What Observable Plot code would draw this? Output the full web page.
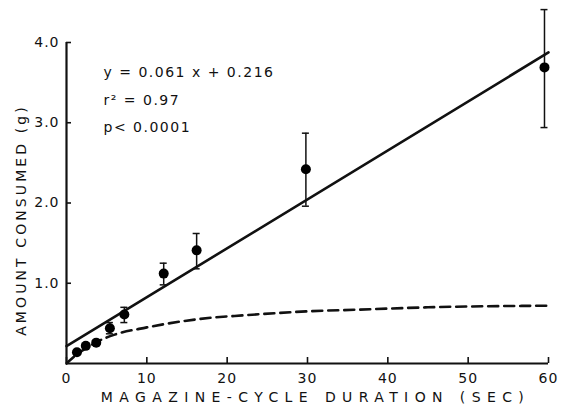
<!DOCTYPE html>
<html>
<head>
<meta charset="utf-8">
<script src="https://cdn.jsdelivr.net/npm/d3@7"></script>
<script src="https://cdn.jsdelivr.net/npm/@observablehq/plot@0.6"></script>
<style>
  html, body { margin: 0; padding: 0; background: #fff; }
  #chart svg { display: block; }
</style>
</head>
<body>
<div id="chart"></div>
<script>
// Observed means (magazine-cycle duration in s, amount consumed in g)
const durations = [1.3, 2.4, 3.7, 5.4, 7.2, 12.1, 16.2, 29.8, 59.5];
const amounts   = [0.14, 0.22, 0.26, 0.44, 0.61, 1.12, 1.41, 2.42, 3.69];
// Error bar limits (null = no visible bar)
const errLow    = [null, null, null, 0.37, 0.51, 0.98, 1.18, 1.96, 2.94];
const errHigh   = [null, null, null, 0.51, 0.70, 1.25, 1.62, 2.87, 4.41];

// Dashed curve
const curveX = [0, 1, 2.6, 4, 6, 10, 14, 18, 22, 30, 36, 45, 60];
const curveY = [0, 0.09, 0.20, 0.28, 0.36, 0.45, 0.52, 0.57, 0.60, 0.65, 0.67, 0.70, 0.72];

// Regression: y = 0.061 x + 0.216 over the x range
const slope = 0.061, intercept = 0.216;
const fitRange = [0, 60];

const xTicks = [0, 10, 20, 30, 40, 50, 60];
const yTicks = [1, 2, 3, 4];
const yTickLabels = ["1.0", "2.0", "3.0", "4.0"];

const statsLines = ["y = 0.061 x + 0.216", "r² = 0.97", "p< 0.0001"];
const statsY = [3.62, 3.28, 2.94];

const xLabel = "MAGAZINE-CYCLE DURATION (SEC)";
const yLabel = "AMOUNT CONSUMED (g)";

const points = durations.map((x, i) => ({x, y: amounts[i], lo: errLow[i], hi: errHigh[i]}));
const bars = points.filter(d => d.lo != null);
const curve = curveX.map((x, i) => ({x, y: curveY[i]}));
const fit = fitRange.map(x => ({x, y: slope * x + intercept}));
const stats = statsLines.map((t, i) => ({t, y: statsY[i]}));

const font = "'DejaVu Sans', sans-serif";

const chart = Plot.plot({
  width: 573,
  height: 416,
  marginLeft: 66,
  marginRight: 25,
  marginTop: 42,
  marginBottom: 53,
  style: {fontFamily: font, fontSize: "14px", color: "#111", background: "#fff"},
  x: {domain: [0, 60]},
  y: {domain: [0, 4]},
  marks: [
    Plot.axisX({ticks: xTicks, tickSize: -6, tickPadding: 16, tickFormat: d => String(d), strokeWidth: 1.6, label: null, fontSize: 14}),
    Plot.axisY({ticks: yTicks, tickSize: -5, tickPadding: 12, tickFormat: d => yTickLabels[yTicks.indexOf(d)], strokeWidth: 1.6, label: null, fontSize: 14}),
    Plot.ruleY([0], {strokeWidth: 2.2}),
    Plot.ruleX([0], {strokeWidth: 2.2}),
    Plot.line(curve, {x: "x", y: "y", curve: "monotone-x", strokeWidth: 2.6, strokeDasharray: "10,6"}),
    Plot.line(fit, {x: "x", y: "y", strokeWidth: 2.6}),
    Plot.ruleX(bars, {x: "x", y1: "lo", y2: "hi", strokeWidth: 1.5}),
    Plot.ruleY(bars, {y: "hi", x1: "x", x2: "x", insetLeft: -3.5, insetRight: -3.5, strokeWidth: 1.5}),
    Plot.ruleY(bars, {y: "lo", x1: "x", x2: "x", insetLeft: -3.5, insetRight: -3.5, strokeWidth: 1.5}),
    Plot.dot(points, {x: "x", y: "y", r: 5, fill: "black", stroke: "none"}),
    Plot.text(stats, {x: 0, y: "y", text: "t", textAnchor: "start", dx: 37, fontSize: 14}),
    Plot.text([xLabel], {frameAnchor: "bottom", textAnchor: "middle", dx: 8, dy: 38, fontSize: 14}),
    Plot.text([yLabel], {frameAnchor: "left", textAnchor: "middle", dx: -45, dy: 17, rotate: -90, fontSize: 14})
  ]
});

// letter spacing to match the stencil-like lettering of the original
const spacing = new Map([[xLabel, "6.4px"], [yLabel, "3.1px"]]);
statsLines.forEach(t => spacing.set(t, "1.5px"));
d3.select(chart).selectAll("text").each(function() {
  const t = this.textContent;
  if (spacing.has(t)) this.setAttribute("letter-spacing", spacing.get(t));
  else if (yTickLabels.includes(t) || xTicks.map(String).includes(t)) this.setAttribute("letter-spacing", "1px");
});
document.getElementById("chart").appendChild(chart);
</script>
</body>
</html>
